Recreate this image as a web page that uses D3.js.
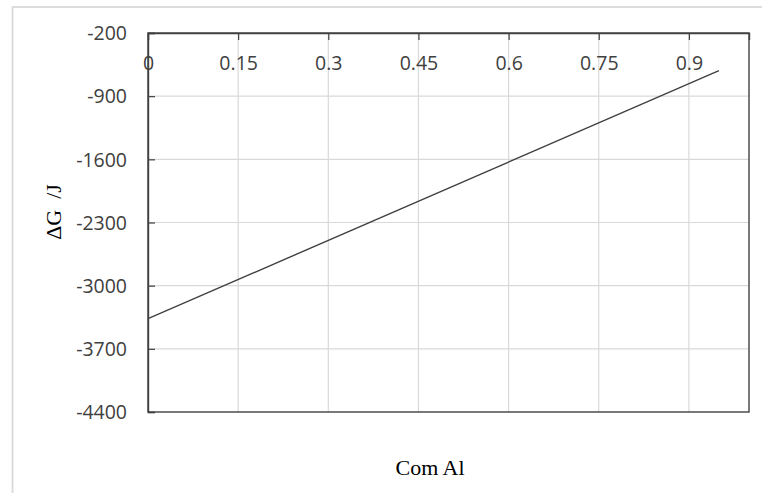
<!DOCTYPE html>
<html>
<head>
<meta charset="utf-8">
<script src="https://cdn.jsdelivr.net/npm/d3@7"></script>
<style>
  html, body { margin: 0; padding: 0; background: #fff; }
  svg { display: block; }
</style>
</head>
<body>
<svg id="chart" width="762" height="493"></svg>
<script>
// Data
const comAl = [0, 0.95];
const deltaG = [-3366, -618];
const xTicks = [0, 0.15, 0.3, 0.45, 0.6, 0.75, 0.9];
const yTicks = [-200, -900, -1600, -2300, -3000, -3700, -4400];
const xTitle = "Com Al";
const yTitle = "ΔG  /J";

const svg = d3.select("#chart");
const W = 762, H = 493;
const plot = { left: 148, right: 749, top: 33, bottom: 412 };

// outer chart frame (extends past the picture on right/bottom)
svg.append("rect")
  .attr("x", 12.5).attr("y", 7)
  .attr("width", 900).attr("height", 700)
  .attr("fill", "#fff")
  .attr("stroke", "#d9d9d9").attr("stroke-width", 1.8);

const x = d3.scaleLinear().domain([0, 1]).range([plot.left, plot.right]);
const y = d3.scaleLinear().domain([-4400, -200]).range([plot.bottom, plot.top]);

// gridlines
svg.append("g").selectAll("line.vg")
  .data(xTicks.filter(d => d > 0))
  .join("line")
  .attr("x1", d => x(d)).attr("x2", d => x(d))
  .attr("y1", plot.top).attr("y2", plot.bottom)
  .attr("stroke", "#d9d9d9").attr("stroke-width", 1.2);
svg.append("g").selectAll("line.hg")
  .data(yTicks.filter(d => d !== -200 && d !== -4400))
  .join("line")
  .attr("x1", plot.left).attr("x2", plot.right)
  .attr("y1", d => y(d)).attr("y2", d => y(d))
  .attr("stroke", "#d9d9d9").attr("stroke-width", 1.2);

// plot border
svg.append("rect")
  .attr("x", plot.left).attr("y", plot.top)
  .attr("width", plot.right - plot.left).attr("height", plot.bottom - plot.top)
  .attr("fill", "none").attr("stroke", "#404040").attr("stroke-width", 1.4);

// x axis at top, ticks pointing inside
const xAxis = d3.axisBottom(x).tickValues(xTicks).tickSize(7).tickPadding(0)
  .tickFormat(d => d3.format("")(d));
const gx = svg.append("g").attr("transform", `translate(0,${plot.top})`).call(xAxis);
gx.select(".domain").attr("stroke", "#404040").attr("stroke-width", 1.4);
gx.selectAll(".tick line").attr("stroke", "#404040").attr("stroke-width", 1.2);
gx.selectAll(".tick text")
  .attr("y", 37).attr("dy", 0)
  .attr("fill", "#404040")
  .style("font-family", "'Open Sans', sans-serif").style("font-size", "19.5px");

// y axis at left, ticks pointing inside
const yAxis = d3.axisRight(y).tickValues(yTicks).tickSize(7).tickFormat(d => String(d));
const gy = svg.append("g").attr("transform", `translate(${plot.left},0)`).call(yAxis);
gy.select(".domain").attr("stroke", "#404040").attr("stroke-width", 1.4);
gy.selectAll(".tick line").attr("stroke", "#404040").attr("stroke-width", 1.2);
gy.selectAll(".tick text")
  .attr("x", -21).attr("dy", "0.35em")
  .attr("text-anchor", "end")
  .attr("fill", "#404040")
  .style("font-family", "'Open Sans', sans-serif").style("font-size", "19.5px");

// data line
const pts = comAl.map((c, i) => [c, deltaG[i]]);
svg.append("path")
  .datum(pts)
  .attr("fill", "none")
  .attr("stroke", "#404040")
  .attr("stroke-width", 1.4)
  .attr("d", d3.line().x(d => x(d[0])).y(d => y(d[1])));

// axis titles
svg.append("text")
  .attr("x", 430).attr("y", 475)
  .attr("text-anchor", "middle")
  .attr("fill", "#000")
  .style("font-family", "'Liberation Serif', 'Times New Roman', serif")
  .style("font-size", "22px")
  .text(xTitle);

svg.append("text")
  .attr("transform", "translate(61,212) rotate(-90)")
  .attr("text-anchor", "middle")
  .attr("fill", "#000")
  .style("font-family", "'Liberation Serif', 'Times New Roman', serif")
  .style("font-size", "22px")
  .style("white-space", "pre")
  .text(yTitle);
</script>
</body>
</html>
